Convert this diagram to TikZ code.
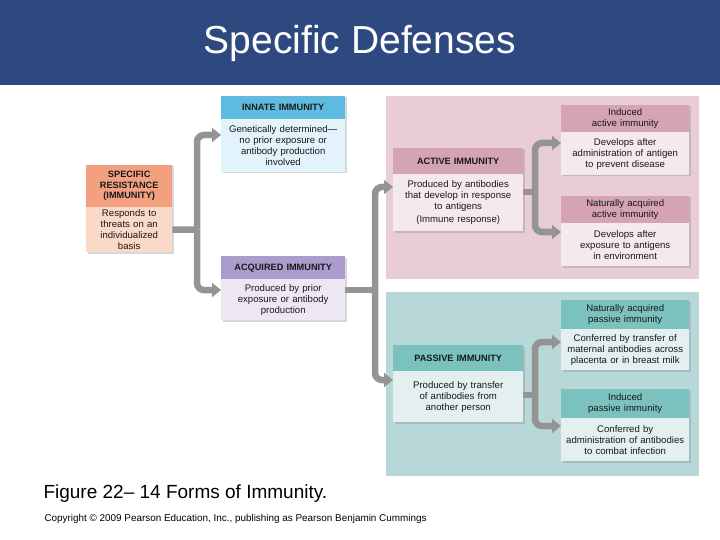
\documentclass[tikz,border=0pt]{standalone}
\usepackage{fontspec}
\setmainfont{Liberation Sans}
\usetikzlibrary{arrows.meta,shadows}
\begin{document}
\begin{tikzpicture}[x=1pt,y=-1pt,
  box/.style={draw=none,anchor=north west,inner sep=1pt,align=center,text=black!90,font=\fontsize{9.6}{11}\selectfont},
  hdr/.style={box,font=\fontsize{9.2}{10.5}\selectfont\bfseries},
  sh/.style={drop shadow={shadow xshift=1.5pt,shadow yshift=-1.5pt,opacity=0.3}},
  link/.style={line width=6.5pt,draw=black!42,rounded corners=7pt},
  arr/.style={link,-{Triangle[width=14pt,length=9pt]}}]
\useasboundingbox (0,0) rectangle (720,540);
\fill[white] (0,0) rectangle (720,540);
\fill[fill={rgb,255:red,46;green,72;blue,128}] (0,0) rectangle (720,85);
\node[text=white,font=\fontsize{39}{44}\selectfont] (title) at (360,43) {Specific Defenses};
\fill[fill={rgb,255:red,232;green,205;blue,214}] (386,96) rectangle (699,279);
\fill[fill={rgb,255:red,183;green,215;blue,216}] (386,292) rectangle (699,476);
\definecolor{salH}{RGB}{242,160,128}\definecolor{salB}{RGB}{251,217,200}
\definecolor{bluH}{RGB}{95,186,224}\definecolor{bluB}{RGB}{226,243,252}
\definecolor{purH}{RGB}{170,156,204}\definecolor{purB}{RGB}{236,231,243}
\definecolor{pinH}{RGB}{212,163,181}\definecolor{pinB}{RGB}{244,234,237}
\definecolor{tealH}{RGB}{123,194,190}\definecolor{tealB}{RGB}{227,240,239}
% specific
\fill[sh,fill=salB] (86,165) rectangle (172,252);
\node[hdr,fill=salH,minimum width=86pt,minimum height=42pt,text width=84pt] (spech) at (86,165) {SPECIFIC\\RESISTANCE\\(IMMUNITY)};
\node[box,fill=salB,minimum width=86pt,minimum height=45pt,text width=84pt] (specb) at (86,207) {Responds to\\threats on an\\individualized\\basis};
% innate
\fill[sh,fill=bluB] (221,96) rectangle (345,172);
\node[hdr,fill=bluH,minimum width=124pt,minimum height=23pt,text width=122pt] (innh) at (221,96) {INNATE IMMUNITY};
\node[box,fill=bluB,minimum width=124pt,minimum height=53pt,text width=122pt] (innb) at (221,119) {Genetically determined—\\no prior exposure or\\antibody production\\involved};
% acquired
\fill[sh,fill=purB] (221,256) rectangle (345,320);
\node[hdr,fill=purH,minimum width=124pt,minimum height=23pt,text width=122pt] (acqh) at (221,256) {ACQUIRED IMMUNITY};
\node[box,fill=purB,minimum width=124pt,minimum height=41pt,text width=122pt] (acqb) at (221,279) {Produced by prior\\exposure or antibody\\production};
% active
\fill[sh,fill=pinB] (393,148) rectangle (523,231);
\node[hdr,fill=pinH,minimum width=130pt,minimum height=26pt,text width=128pt] (acth) at (393,148) {ACTIVE IMMUNITY};
\node[box,fill=pinB,minimum width=130pt,minimum height=57pt,text width=128pt] (actb) at (393,174) {Produced by antibodies\\that develop in response\\to antigens\\[2pt](Immune response)};
\fill[sh,fill=pinB] (561,105) rectangle (689,175);
\node[box,fill=pinH,minimum width=128pt,minimum height=27pt,text width=126pt] (iah) at (561,105) {Induced\\active immunity};
\node[box,fill=pinB,minimum width=128pt,minimum height=43pt,text width=126pt] (iab) at (561,132) {Develops after\\administration of antigen\\to prevent disease};
\fill[sh,fill=pinB] (561,196) rectangle (689,266);
\node[box,fill=pinH,minimum width=128pt,minimum height=27pt,text width=126pt] (nah) at (561,196) {Naturally acquired\\active immunity};
\node[box,fill=pinB,minimum width=128pt,minimum height=43pt,text width=126pt] (nab) at (561,223) {Develops after\\exposure to antigens\\in environment};
% passive
\fill[sh,fill=tealB] (393,345) rectangle (523,422);
\node[hdr,fill=tealH,minimum width=130pt,minimum height=26pt,text width=128pt] (pash) at (393,345) {PASSIVE IMMUNITY};
\node[box,fill=tealB,minimum width=130pt,minimum height=51pt,text width=128pt] (pasb) at (393,371) {Produced by transfer\\of antibodies from\\another person};
\fill[sh,fill=tealB] (561,300) rectangle (689,370);
\node[box,fill=tealH,minimum width=128pt,minimum height=29pt,text width=126pt] (nph) at (561,300) {Naturally acquired\\passive immunity};
\node[box,fill=tealB,minimum width=128pt,minimum height=41pt,text width=126pt] (npb) at (561,329) {Conferred by transfer of\\maternal antibodies across\\placenta or in breast milk};
\fill[sh,fill=tealB] (561,389) rectangle (689,461);
\node[box,fill=tealH,minimum width=128pt,minimum height=29pt,text width=126pt] (iph) at (561,389) {Induced\\passive immunity};
\node[box,fill=tealB,minimum width=128pt,minimum height=43pt,text width=126pt] (ipb) at (561,418) {Conferred by\\administration of antibodies\\to combat infection};
% connectors
\coordinate (j1) at (197,229.5);
\draw[link] (specb.east) -- (j1);
\draw[arr] (j1) |- (innb.west|-0,135);
\draw[arr] (j1) |- (acqb.west|-0,290);
\coordinate (j2) at (375,290);
\draw[link] (acqb.east|-0,290) -- (j2);
\draw[arr] (j2) |- (actb.west|-0,187);
\draw[arr] (j2) |- (pasb.west|-0,380);
\coordinate (j3) at (535,192);
\draw[link] (actb.east|-0,192) -- (j3);
\draw[arr] (j3) |- (iab.west|-0,143);
\draw[arr] (j3) |- (nab.west|-0,232);
\coordinate (j4) at (535,395);
\draw[link] (pasb.east|-0,395) -- (j4);
\draw[arr] (j4) |- (npb.west|-0,342);
\draw[arr] (j4) |- (ipb.west|-0,426);
% caption
\node[anchor=west,font=\fontsize{19}{22}\selectfont] (cap) at (40,494) {Figure 22– 14 Forms of Immunity.};
\node[anchor=west,font=\fontsize{9.9}{11}\selectfont] (copy) at (41,519) {Copyright © 2009 Pearson Education, Inc., publishing as Pearson Benjamin Cummings};
\end{tikzpicture}
\end{document}
